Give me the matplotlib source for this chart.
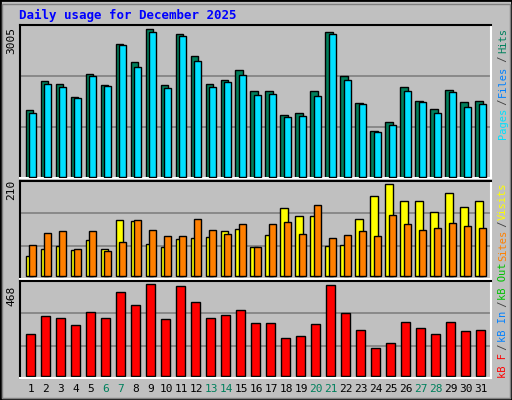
import numpy as np
import matplotlib.pyplot as plt

days = list(range(1, 32))
hits = [1353, 1945, 1884, 1618, 2088, 1863, 2706, 2332, 3005, 1863, 2903, 2455, 1884, 1965, 2169, 1741,
        1741, 1251, 1292, 1741, 2944, 2047, 1496, 925, 1108, 1822, 1537, 1374, 1761, 1516, 1537]
files = [1292, 1884, 1822, 1598, 2047, 1843, 2679, 2230, 2944, 1802, 2863, 2353, 1822, 1924, 2067, 1659,
         1680, 1210, 1231, 1639, 2903, 1965, 1476, 904, 1047, 1741, 1516, 1292, 1720, 1414, 1476]
visits = [46, 62, 68, 59, 82, 62, 128, 126, 73, 66, 84, 87, 89, 103, 107, 66,
          94, 155, 137, 137, 68, 71, 130, 183, 210, 171, 171, 146, 189, 158, 171]
sites = [71, 98, 103, 62, 103, 57, 78, 128, 105, 91, 91, 130, 105, 96, 119, 66,
         119, 123, 96, 162, 87, 94, 103, 91, 139, 119, 105, 110, 121, 114, 110]
kbytes = [212, 304, 294, 258, 325, 294, 427, 360, 468, 289, 458, 376, 294, 309, 335, 273,
          273, 196, 202, 263, 463, 319, 237, 145, 171, 278, 243, 212, 278, 232, 237]
weekend = [6, 7, 13, 14, 20, 21, 27, 28]

W, H = 512, 400
fig = plt.figure(figsize=(W / 100, H / 100), dpi=100, facecolor='#C0C0C0')
mono = 'DejaVu Sans Mono'
X0, X1 = 0.267, 31.67  # day range across the panel width
AX_L, AX_W = 20, 471

# outer border
fig.patches.append(plt.Rectangle((0, 0), 1, 1, transform=fig.transFigure, fill=False,
                                 edgecolor='black', linewidth=2))
fig.patches.append(plt.Rectangle((2 / W, 2 / H), 1 - 4 / W, 1 - 6 / H, transform=fig.transFigure,
                                 fill=False, edgecolor='#808080', linewidth=1))


def panel(y0, y1):
    ax = fig.add_axes([AX_L / W, 1 - y1 / H, AX_W / W, (y1 - y0) / H])
    ax.set_facecolor('#C0C0C0')
    ax.set_xlim(X0, X1)
    for s in ax.spines.values():
        s.set_color('white')
        s.set_linewidth(1.5)
    ax.spines['top'].set_color('black')
    ax.spines['left'].set_color('black')
    ax.set_xticks([])
    ax.set_yticks([])
    return ax


def grid(ax):
    lo, hi = ax.get_ylim()
    for f in (1 / 3, 2 / 3):
        ax.axhline(lo + (hi - lo) * f, color='#808080', linewidth=1.2, zorder=0)


x = np.array(days)
ax1 = panel(25, 178)
ax1.set_ylim(-3005 * 0.01, 3005 * 1.03)
grid(ax1)
ax1.bar(x - 0.13, hits, width=0.47, color='#00805C', edgecolor='black', linewidth=1, zorder=2)
ax1.bar(x + 0.13, files, width=0.47, color='#00E0FF', edgecolor='black', linewidth=1, zorder=3)
fig.text(6 / W, 1 - 40 / H, '3005', rotation=90, fontsize=8, family=mono, ha='left', va='center')

ax2 = panel(180.5, 279)
ax2.set_ylim(-210 * 0.03, 210 * 1.04)
grid(ax2)
ax2.bar(x - 0.13, visits, width=0.47, color='#FFFF00', edgecolor='black', linewidth=1, zorder=2)
ax2.bar(x + 0.13, sites, width=0.47, color='#FF8000', edgecolor='black', linewidth=1, zorder=3)
fig.text(6 / W, 1 - 190 / H, '210', rotation=90, fontsize=8, family=mono, ha='left', va='center')

ax3 = panel(280.5, 378)
ax3.set_ylim(-468 * 0.02, 468 * 1.04)
grid(ax3)
ax3.bar(x, kbytes, width=0.6, color='#FF0000', edgecolor='black', linewidth=1, zorder=2)
fig.text(6 / W, 1 - 296 / H, '468', rotation=90, fontsize=8, family=mono, ha='left', va='center')

for d in days:
    xf = (AX_L + (d - X0) / (X1 - X0) * AX_W) / W
    fig.text(xf, 1 - 389 / H, str(d), fontsize=8, family=mono, ha='center', va='center',
             color='#00805C' if d in weekend else 'black')

fig.text(19 / W, 1 - 15 / H, 'Daily usage for December 2025', fontsize=9, family=mono,
         weight='bold', color='#0000FF', ha='left', va='center')


def side(parts, ytop, step=5.35):
    # parts listed top-down; text reads bottom-to-top
    y = ytop
    for txt, col in parts:
        fig.text(503 / W, 1 - y / H, txt, rotation=90, fontsize=7.5, family=mono,
                 color=col, ha='center', va='top')
        y += len(txt) * step


grey = '#404040'
side([('Hits', '#00805C'), (' / ', grey), ('Files', '#0080FF'), (' / ', grey), ('Pages', '#00E0FF')], 28)
side([('Visits', '#FFFF00'), (' / ', grey), ('Sites', '#FF8000'), (' ', grey), ('kB Out', '#00C000'),
      (' / ', grey), ('kB In', '#0080FF'), (' / ', grey), ('kB F', '#FF0000')], 182)

fig.savefig('out.png', dpi=100, facecolor=fig.get_facecolor())
